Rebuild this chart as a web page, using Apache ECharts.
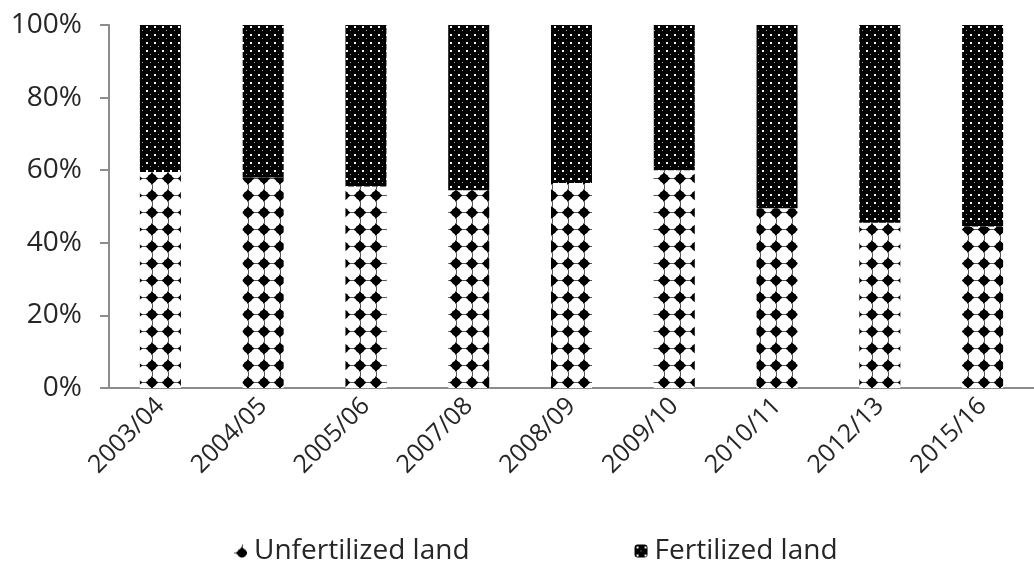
<!DOCTYPE html>
<html>
<head>
<meta charset="utf-8">
<script src="https://cdn.jsdelivr.net/npm/echarts@6/dist/echarts.min.js"></script>
<style>
html,body{margin:0;padding:0;background:#fff;}
#main{width:1034px;height:565px;}
</style>
</head>
<body>
<div id="main"></div>
<script>
var years = ['2003/04','2004/05','2005/06','2007/08','2008/09','2009/10','2010/11','2012/13','2015/16'];
var unfertilized = [59.5, 58, 55.5, 54.5, 56.5, 60, 49.5, 45.5, 44.5];
var fertilized = [40.5, 42, 44.5, 45.5, 43.5, 40, 50.5, 54.5, 55.5];
var yTicks = [0, 20, 40, 60, 80, 100];

// white background with black four-point blobs
function blobTile() {
	var c = document.createElement('canvas');
	c.width = 16; c.height = 17;
	var g = c.getContext('2d');
	g.fillStyle = '#fff';
	g.fillRect(0, 0, 16, 17);
	g.fillStyle = '#000';
	function blob(cx, cy) {
		g.beginPath();
		g.moveTo(cx, cy - 7);
		g.quadraticCurveTo(cx + 2, cy - 2, cx + 7, cy);
		g.quadraticCurveTo(cx + 2, cy + 2, cx, cy + 7);
		g.quadraticCurveTo(cx - 2, cy + 2, cx - 7, cy);
		g.quadraticCurveTo(cx - 2, cy - 2, cx, cy - 7);
		g.fill();
		g.beginPath();
		g.arc(cx, cy, 4.6, 0, Math.PI * 2);
		g.fill();
	}
	blob(8, 8.5);
	// thin connectors between blobs
	g.fillStyle = '#555';
	g.fillRect(0, 8, 2, 1);
	g.fillRect(14, 8, 2, 1);
	g.fillRect(8, 0, 1, 2);
	g.fillRect(8, 15, 1, 2);
	return c;
}
// black background with small white dots
function dotTile() {
	var c = document.createElement('canvas');
	c.width = 8; c.height = 8;
	var g = c.getContext('2d');
	g.fillStyle = '#000';
	g.fillRect(0, 0, 8, 8);
	g.fillStyle = '#fff';
	g.fillRect(2, 2, 2, 2);
	g.fillStyle = '#aaa';
	g.fillRect(6, 6, 1, 1);
	return c;
}

var myChart = echarts.init(document.getElementById('main'));
var font = '"Open Sans", sans-serif';
var axisColor = '#8c8c8c';
var textColor = '#262626';
var option = {
	animation: false,
	grid: {left: 109, top: 25, width: 930, bottom: 177, containLabel: false},
	legend: {
		left: 229, top: 532,
		itemWidth: 13, itemHeight: 13,
		itemGap: 165,
		textStyle: {fontFamily: font, fontSize: 28, color: textColor, padding: [0, 0, 0, 2]},
		data: ['Unfertilized land', 'Fertilized land']
	},
	xAxis: {
		type: 'category',
		data: years,
		axisLine: {lineStyle: {color: axisColor, width: 2}},
		axisTick: {length: 9, lineStyle: {color: axisColor, width: 2}},
		axisLabel: {rotate: 45, fontFamily: font, fontSize: 25, color: textColor, margin: 14}
	},
	yAxis: {
		type: 'value',
		min: 0, max: 100, interval: 20,
		axisLine: {show: true, lineStyle: {color: axisColor, width: 2}},
		axisTick: {show: true, length: 9, lineStyle: {color: axisColor, width: 2}},
		splitLine: {show: false},
		axisLabel: {
			fontFamily: font, fontSize: 28, color: textColor, margin: 27,
			formatter: function (v) { return yTicks.indexOf(v) >= 0 ? v + '%' : ''; }
		}
	},
	series: [{
		name: 'Unfertilized land',
		type: 'bar',
		stack: 'total',
		barWidth: 41,
		data: unfertilized,
		itemStyle: {color: {image: blobTile(), repeat: 'repeat'}}
	}, {
		name: 'Fertilized land',
		type: 'bar',
		stack: 'total',
		barWidth: 41,
		data: fertilized,
		itemStyle: {color: {image: dotTile(), repeat: 'repeat'}}
	}]
};
myChart.setOption(option);
</script>
</body>
</html>
